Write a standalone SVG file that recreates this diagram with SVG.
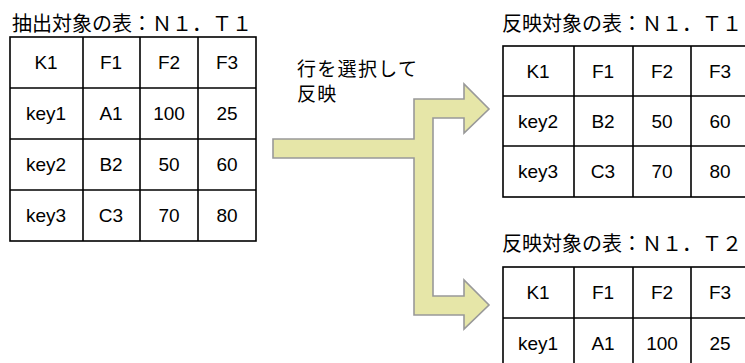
<svg xmlns="http://www.w3.org/2000/svg" width="745" height="363" viewBox="0 0 745 363">
<style>
.ttl{font-family:"Noto Sans CJK JP","Liberation Sans",sans-serif;font-size:20px;fill:#000}
.lbl{font-family:"Noto Sans CJK JP","Liberation Sans",sans-serif;font-size:19px;fill:#000;letter-spacing:1.3px}
.cell{font-family:"Liberation Sans",Arial,sans-serif;font-size:19px;fill:#000;text-anchor:middle}
.grid{fill:#fff;stroke:#000;stroke-width:1.6}
.ln{stroke:#000;stroke-width:1.6}
.arrow{fill:#e6e6a8;stroke:#999;stroke-width:1.6;stroke-linejoin:miter}
</style>
<rect width="745" height="363" fill="#fff"/>
<g id="connectors">
<polygon class="arrow" points="273,139 414,139 414,99 464,99 464,84 489,109 464,133 464,118 433,118 433,296 464,296 464,280 489,305 464,329 464,315 414,315 414,158 273,158"/>
<text class="lbl" x="297" y="76">行を選択して</text>
<text class="lbl" x="297" y="101">反映</text>
</g>
<g id="src">
<text class="ttl" x="12" y="31">抽出対象の表：Ｎ１．Ｔ１</text>
<rect class="grid" x="10" y="37" width="246" height="204"/>
<line class="ln" x1="83" y1="37" x2="83" y2="241"/>
<line class="ln" x1="140" y1="37" x2="140" y2="241"/>
<line class="ln" x1="198" y1="37" x2="198" y2="241"/>
<line class="ln" x1="10" y1="88" x2="256" y2="88"/>
<line class="ln" x1="10" y1="139" x2="256" y2="139"/>
<line class="ln" x1="10" y1="190" x2="256" y2="190"/>
<text class="cell" x="46" y="69">K1</text><text class="cell" x="111" y="69">F1</text><text class="cell" x="169" y="69">F2</text><text class="cell" x="227" y="69">F3</text>
<text class="cell" x="46" y="120">key1</text><text class="cell" x="111" y="120">A1</text><text class="cell" x="169" y="120">100</text><text class="cell" x="227" y="120">25</text>
<text class="cell" x="46" y="171">key2</text><text class="cell" x="111" y="171">B2</text><text class="cell" x="169" y="171">50</text><text class="cell" x="227" y="171">60</text>
<text class="cell" x="46" y="222">key3</text><text class="cell" x="111" y="222">C3</text><text class="cell" x="169" y="222">70</text><text class="cell" x="227" y="222">80</text>
</g>
<g id="dst1">
<text class="ttl" x="502" y="31">反映対象の表：Ｎ１．Ｔ１</text>
<rect class="grid" x="503" y="46" width="246" height="151"/>
<line class="ln" x1="574" y1="46" x2="574" y2="197"/>
<line class="ln" x1="633" y1="46" x2="633" y2="197"/>
<line class="ln" x1="691" y1="46" x2="691" y2="197"/>
<line class="ln" x1="503" y1="96" x2="749" y2="96"/>
<line class="ln" x1="503" y1="146" x2="749" y2="146"/>
<text class="cell" x="538" y="78">K1</text><text class="cell" x="603" y="78">F1</text><text class="cell" x="662" y="78">F2</text><text class="cell" x="720" y="78">F3</text>
<text class="cell" x="538" y="128">key2</text><text class="cell" x="603" y="128">B2</text><text class="cell" x="662" y="128">50</text><text class="cell" x="720" y="128">60</text>
<text class="cell" x="538" y="178">key3</text><text class="cell" x="603" y="178">C3</text><text class="cell" x="662" y="178">70</text><text class="cell" x="720" y="178">80</text>
</g>
<g id="dst2">
<text class="ttl" x="502" y="251">反映対象の表：Ｎ１．Ｔ２</text>
<rect class="grid" x="503" y="267" width="246" height="102"/>
<line class="ln" x1="574" y1="267" x2="574" y2="369"/>
<line class="ln" x1="633" y1="267" x2="633" y2="369"/>
<line class="ln" x1="691" y1="267" x2="691" y2="369"/>
<line class="ln" x1="503" y1="318" x2="749" y2="318"/>
<text class="cell" x="538" y="299">K1</text><text class="cell" x="603" y="299">F1</text><text class="cell" x="662" y="299">F2</text><text class="cell" x="720" y="299">F3</text>
<text class="cell" x="538" y="350">key1</text><text class="cell" x="603" y="350">A1</text><text class="cell" x="662" y="350">100</text><text class="cell" x="720" y="350">25</text>
</g>
</svg>
